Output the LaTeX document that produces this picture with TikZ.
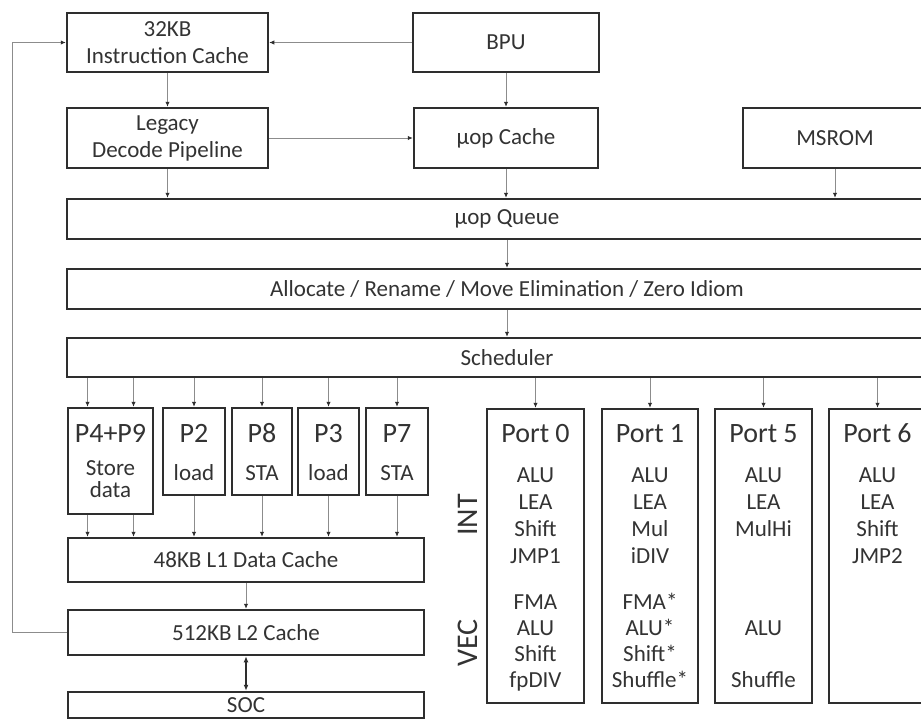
\documentclass[tikz,border=0pt]{standalone}
\usepackage{fontspec}
\setmainfont{Carlito}
\usetikzlibrary{arrows.meta,calc}
\definecolor{bord}{HTML}{2E2E2E}
\definecolor{txt}{HTML}{333333}
\definecolor{conngray}{HTML}{8C8C8C}
\begin{document}
\begin{tikzpicture}[x=1pt,y=-1pt,
  box/.style={draw=bord,line width=2.5pt,fill=white,inner sep=0pt,text=txt,
    font=\fontsize{23}{27}\selectfont,align=center},
  wh/.style 2 args={minimum width=#1pt,minimum height=#2pt},
  lbl/.style={text=txt,inner sep=0pt,font=\fontsize{23}{26}\selectfont,text height=14.8pt,text depth=0pt},
  hdr/.style={text=txt,inner sep=0pt,font=\fontsize{28}{30}\selectfont,text height=18pt,text depth=0pt},
  side/.style={text=txt,inner sep=0pt,font=\fontsize{30}{30}\selectfont,rotate=90,text height=19pt,text depth=0pt},
  conn/.style={draw=conngray,line width=0.9pt,-{Latex[length=5pt,width=4.5pt,color=bord]}},
  dbl/.style={draw=bord,line width=1.6pt,{Latex[length=6pt,width=5pt]}-{Latex[length=6pt,width=5pt]}}]
\useasboundingbox (0,0) rectangle (921,720);
\clip (0,0) rectangle (921,720);
\fill[white] (0,0) rectangle (921,720);

% front end
\node[box,wh={201}{59}] (ic) at (167.5,42.5) {32KB\\Instruction Cache};
\node[box,wh={186}{59}] (bpu) at (506,42.5) {BPU};
\node[box,wh={201}{60}] (leg) at (167.5,138) {Legacy\\Decode Pipeline};
\node[box,wh={184}{60}] (uc) at (506,138) {µop Cache};
\node[box,wh={184}{60}] (msrom) at (835,138) {MSROM};

% bars
\node[box,wh={880}{40}] (uq) at (507,219) {µop Queue};
\node[box,wh={880}{40}] (alloc) at (507,289) {Allocate / Rename / Move Elimination / Zero Idiom};
\node[box,wh={880}{39}] (sched) at (507,357.5) {Scheduler};

% memory ports
\node[box,wh={85}{106}] (p49) at (110.5,461) {};
\node[box,wh={62}{87}] (p2) at (194,451.5) {};
\node[box,wh={60}{87}] (p8) at (262,451.5) {};
\node[box,wh={61}{87}] (p3) at (328.5,451.5) {};
\node[box,wh={62}{87}] (p7) at (397,451.5) {};
\node[hdr] (p49h) at (p49.north |- 0,433) {P4+P9};
\node[lbl] (p49s) at (p49.north |- 0,468) {Store};
\node[lbl] (p49d) at (p49.north |- 0,490) {data};
\node[hdr] (p2h) at (p2.north |- 0,433) {P2};
\node[lbl] (p2t) at (p2.north |- 0,473) {load};
\node[hdr] (p8h) at (p8.north |- 0,433) {P8};
\node[lbl] (p8t) at (p8.north |- 0,473) {STA};
\node[hdr] (p3h) at (p3.north |- 0,433) {P3};
\node[lbl] (p3t) at (p3.north |- 0,473) {load};
\node[hdr] (p7h) at (p7.north |- 0,433) {P7};
\node[lbl] (p7t) at (p7.north |- 0,473) {STA};

% caches
\node[box,wh={356}{44}] (l1) at (246,560) {48KB L1 Data Cache};
\node[box,wh={356}{45}] (l2) at (246,632.5) {512KB L2 Cache};
\node[box,wh={356}{26}] (soc) at (246,705) {SOC};

% execution ports
\node[box,wh={97}{294}] (port0) at (535.5,556) {};
\node[box,wh={96}{294}] (port1) at (650,556) {};
\node[box,wh={97}{294}] (port5) at (763.5,556) {};
\node[box,wh={97}{294}] (port6) at (877.5,556) {};
\node[hdr] (port0h) at (port0.north |- 0,433) {Port 0};
\node[hdr] (port1h) at (port1.north |- 0,433) {Port 1};
\node[hdr] (port5h) at (port5.north |- 0,433) {Port 5};
\node[hdr] (port6h) at (port6.north |- 0,433) {Port 6};
\foreach \t [count=\i from 0] in {ALU,LEA,Shift,JMP1}
  \node[lbl] (p0i\i) at (535.5,{475+27*\i}) {\t};
\foreach \t [count=\i from 0] in {FMA,ALU,Shift,fpDIV}
  \node[lbl] (p0v\i) at (535.5,{602+26*\i}) {\t};
\foreach \t [count=\i from 0] in {ALU,LEA,Mul,iDIV}
  \node[lbl] (p1i\i) at (650,{475+27*\i}) {\t};
\foreach \t [count=\i from 0] in {FMA*,ALU*,Shift*,Shuffle*}
  \node[lbl] (p1v\i) at (650,{602+26*\i}) {\t};
\foreach \t [count=\i from 0] in {ALU,LEA,MulHi}
  \node[lbl] (p5i\i) at (763.5,{475+27*\i}) {\t};
\node[lbl] (p5v1) at (763.5,628) {ALU};
\node[lbl] (p5v3) at (763.5,680) {Shuffle};
\foreach \t [count=\i from 0] in {ALU,LEA,Shift,JMP2}
  \node[lbl] (p6i\i) at (877.5,{475+27*\i}) {\t};
\node[side] (int) at (468,515) {INT};
\node[side] (vec) at (468,643) {VEC};

% connector anchors
\coordinate (fbx) at (12,0);
\coordinate (midx) at (507,0);
\coordinate (p49ta) at ($(p49.north)+(-23,0)$);
\coordinate (p49tb) at ($(p49.north)+(23,0)$);
\coordinate (p49ba) at ($(p49.south)+(-23,0)$);
\coordinate (p49bb) at ($(p49.south)+(23,0)$);

% connectors
\draw[conn] (l2.west) -- (l2.west -| fbx) -- (ic.west -| fbx) -- (ic.west);
\draw[conn] (bpu.west) -- (ic.east);
\draw[conn] (ic.south) -- (leg.north);
\draw[conn] (leg.east) -- (uc.west);
\draw[conn] (bpu.south) -- (uc.north);
\draw[conn] (leg.south) -- (leg.south |- uq.north);
\draw[conn] (uc.south) -- (uc.south |- uq.north);
\draw[conn] (msrom.south) -- (msrom.south |- uq.north);
\draw[conn] (uq.south -| midx) -- (alloc.north -| midx);
\draw[conn] (alloc.south -| midx) -- (sched.north -| midx);
\draw[conn] (p49ta |- sched.south) -- (p49ta);
\draw[conn] (p49tb |- sched.south) -- (p49tb);
\foreach \b in {p2,p8,p3,p7,port0,port1,port5,port6}
  \draw[conn] (\b.north |- sched.south) -- (\b.north);
\draw[conn] (p49ba) -- (p49ba |- l1.north);
\draw[conn] (p49bb) -- (p49bb |- l1.north);
\foreach \b in {p2,p8,p3,p7}
  \draw[conn] (\b.south) -- (\b.south |- l1.north);
\draw[conn] (l1.south) -- (l2.north);
\draw[dbl] (l2.south) -- (soc.north);
\end{tikzpicture}
\end{document}
